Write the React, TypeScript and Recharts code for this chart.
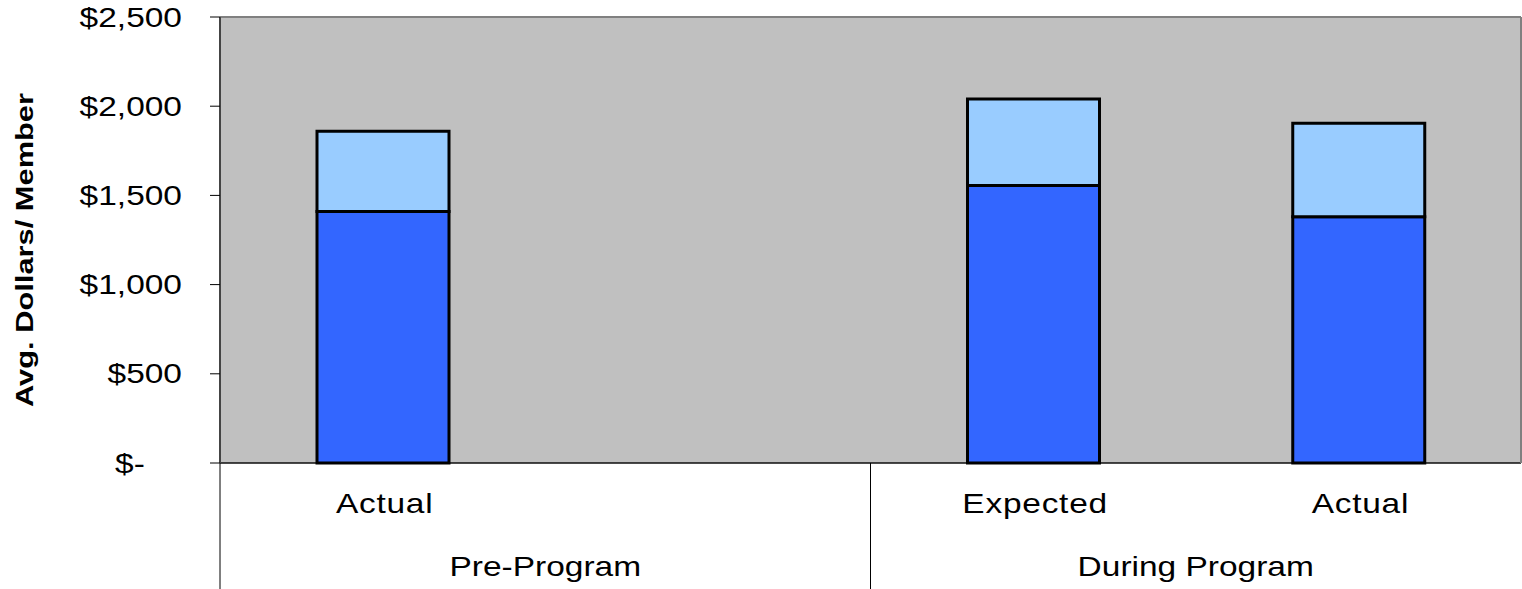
import React from "react";
import {
  BarChart,
  Bar,
  XAxis,
  YAxis,
  CartesianGrid,
  ReferenceLine
} from "recharts";

const categories = ["Actual", "", "Expected", "Actual"];
const groups = ["Pre-Program", "Pre-Program", "During Program", "During Program"];
const baseCost = [1410, 0, 1555, 1380];
const addlCost = [450, 0, 485, 525];
const yTicks = [0, 500, 1000, 1500, 2000, 2500];

const data = categories.map((name, i) => ({
  key: i,
  name,
  group: groups[i],
  base: baseCost[i],
  addl: addlCost[i]
}));

const W = 1522;
const H = 589;
const Y_AXIS_W = 220;
const RIGHT_AXIS_W = 1;
const AXIS_ROW_H = 63;
const FONT = "'Liberation Sans', Arial, sans-serif";
const STRETCH = 1.24;

const bandW = (W - Y_AXIS_W - RIGHT_AXIS_W) / categories.length;

const fmtMoney = (v: number) =>
  v === 0 ? "$-" + "\u00a0".repeat(4) : "$" + v.toLocaleString("en-US");

function YTick(props: any) {
  const { x, y, payload } = props;
  return (
    <g transform={`translate(${x},${y}) scale(${STRETCH},1)`}>
      <text x={0} y={0} dy="0.355em" textAnchor="end" fontSize={27} fontFamily={FONT} fill="#000">
        {fmtMoney(payload.value)}
      </text>
    </g>
  );
}

function CatTick(props: any) {
  const { x, y, index } = props;
  const label = categories[index];
  if (!label) return null;
  return (
    <g transform={`translate(${x + 2},${y + 50}) scale(${STRETCH},1)`}>
      <text x={0} y={0} textAnchor="middle" fontSize={27} fontFamily={FONT} fill="#000" letterSpacing={0.6}>
        {label}
      </text>
    </g>
  );
}

function GroupTick(props: any) {
  const { x, y, index } = props;
  const g = groups[index];
  if (index > 0 && groups[index - 1] === g) return null;
  const count = groups.filter((v) => v === g).length;
  const left = x - bandW / 2;
  const cx = x + ((count - 1) * bandW) / 2;
  return (
    <g>
      <line x1={left} x2={left} y1={y - AXIS_ROW_H} y2={y + AXIS_ROW_H} stroke="#000" strokeWidth={1} />
      <g transform={`translate(${cx},${y + 50}) scale(${STRETCH},1)`}>
        <text x={0} y={0} textAnchor="middle" fontSize={27} fontFamily={FONT} fill="#000">
          {g}
        </text>
      </g>
    </g>
  );
}

function YTitle(props: any) {
  const vb = props.viewBox || { x: 0, y: 17, width: Y_AXIS_W, height: 446 };
  const cx = 33;
  const cy = vb.y + vb.height / 2 + 10;
  return (
    <text
      x={cx}
      y={cy}
      transform={`rotate(-90, ${cx}, ${cy})`}
      textAnchor="middle"
      fontSize={24}
      fontWeight="bold"
      fontFamily={FONT}
      fill="#000"
      textLength={314}
      lengthAdjust="spacingAndGlyphs"
    >
      Avg. Dollars/ Member
    </text>
  );
}

export default function App() {
  return (
    <div style={{ position: "absolute", left: 0, top: 0, width: W, height: H, background: "#fff" }}>
      <BarChart
        width={W}
        height={H}
        data={data}
        margin={{ top: 17, right: 0, left: 0, bottom: 0 }}
        barSize={132}
      >
        <CartesianGrid vertical={false} stroke="#2a2a2a" strokeWidth={1} fill="#c0c0c0" fillOpacity={1} />
        <XAxis
          xAxisId="cat"
          dataKey="key"
          height={AXIS_ROW_H}
          tickLine={false}
          tickSize={0}
          tickMargin={0}
          axisLine={{ stroke: "#000", strokeWidth: 1 }}
          tick={<CatTick />}
          interval={0}
        />
        <XAxis
          xAxisId="group"
          dataKey="key"
          height={AXIS_ROW_H}
          tickLine={false}
          tickSize={0}
          tickMargin={0}
          axisLine={false}
          tick={<GroupTick />}
          interval={0}
        />
        <YAxis
          yAxisId="left"
          width={Y_AXIS_W}
          domain={[0, 2500]}
          ticks={yTicks}
          tickSize={10}
          tickMargin={28}
          tickLine={{ stroke: "#000", strokeWidth: 1 }}
          axisLine={{ stroke: "#444", strokeWidth: 2 }}
          tick={<YTick />}
          label={<YTitle />}
          interval={0}
        />
        <YAxis
          yAxisId="right"
          orientation="right"
          width={RIGHT_AXIS_W}
          domain={[0, 2500]}
          tick={false}
          tickLine={false}
          axisLine={{ stroke: "#808080", strokeWidth: 2 }}
        />
        <ReferenceLine yAxisId="left" xAxisId="cat" y={2500} stroke="#808080" strokeWidth={2} />
        <Bar
          xAxisId="cat"
          yAxisId="left"
          dataKey="base"
          stackId="a"
          fill="#3366ff"
          stroke="#000"
          strokeWidth={3}
          isAnimationActive={false}
        />
        <Bar
          xAxisId="cat"
          yAxisId="left"
          dataKey="addl"
          stackId="a"
          fill="#99ccff"
          stroke="#000"
          strokeWidth={3}
          isAnimationActive={false}
        />
      </BarChart>
    </div>
  );
}
